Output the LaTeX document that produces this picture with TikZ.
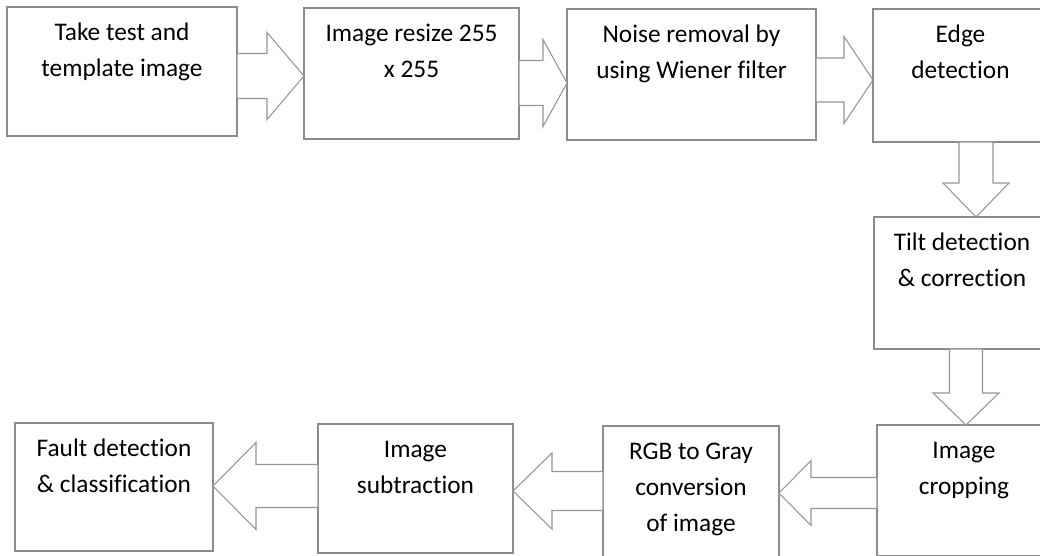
\documentclass[tikz,border=0pt]{standalone}
\usepackage{fontspec}
\setmainfont{Carlito}[Ligatures={NoCommon}]
\usetikzlibrary{calc}
\definecolor{boxgray}{RGB}{140,140,140}
\definecolor{arrgray}{RGB}{150,150,150}
\newcommand\btext[3]{\parbox[t][0.75\dimexpr #2pt\relax][t]{0.75\dimexpr #1pt\relax}{\centering\fontsize{19}{27.2}\selectfont\rule{0pt}{24.8pt}#3\par}}
\newcommand\barR[5]{\draw[barrow] let \p1=(#1.east), \p2=(#2) in
  (\x1,\y2+#3*0.75pt) -- (\x2-#5*0.75pt,\y2+#3*0.75pt) -- (\x2-#5*0.75pt,\y2+#4*0.75pt) -- (\x2,\y2)
  -- (\x2-#5*0.75pt,\y2-#4*0.75pt) -- (\x2-#5*0.75pt,\y2-#3*0.75pt) -- (\x1,\y2-#3*0.75pt) -- cycle;}
\newcommand\barL[5]{\draw[barrow] let \p1=(#1.west), \p2=(#2) in
  (\x1,\y2+#3*0.75pt) -- (\x2+#5*0.75pt,\y2+#3*0.75pt) -- (\x2+#5*0.75pt,\y2+#4*0.75pt) -- (\x2,\y2)
  -- (\x2+#5*0.75pt,\y2-#4*0.75pt) -- (\x2+#5*0.75pt,\y2-#3*0.75pt) -- (\x1,\y2-#3*0.75pt) -- cycle;}
\newcommand\barD[5]{\draw[barrow] let \p1=(#1.south), \p2=(#2) in
  (\x2-#3*0.75pt,\y1) -- (\x2-#3*0.75pt,\y2+#5*0.75pt) -- (\x2-#4*0.75pt,\y2+#5*0.75pt) -- (\x2,\y2)
  -- (\x2+#4*0.75pt,\y2+#5*0.75pt) -- (\x2+#3*0.75pt,\y2+#5*0.75pt) -- (\x2+#3*0.75pt,\y1) -- cycle;}
\begin{document}
\begin{tikzpicture}[x=0.75pt,y=-0.75pt,
  stepbox/.style={draw=boxgray, line width=1.1pt, inner sep=0pt, outer sep=0pt, anchor=north west, fill=white},
  barrow/.style={draw=arrgray, line width=0.8pt, fill=white, line join=miter}]
\useasboundingbox (0,0) rectangle (1040,556);
\clip (0,0) rectangle (1040,556);
\fill[white] (0,0) rectangle (1040,556);
\node[stepbox] (b1) at (7,7) {\btext{230}{129}{Take test and\\template image}};
\node[stepbox] (b2) at (304,8) {\btext{215}{131}{Image resize 255\\x 255}};
\node[stepbox] (b3) at (567,9) {\btext{249}{131}{Noise removal by\\using Wiener filter}};
\node[stepbox] (b4) at (873,9) {\btext{175}{133}{Edge\\detection}};
\node[stepbox] (b5) at (874,217) {\btext{176}{132}{Tilt detection\\\& correction}};
\node[stepbox] (b6) at (877,425) {\btext{174}{130.5}{Image\\cropping}};
\node[stepbox] (b7) at (603,426) {\btext{176}{140}{RGB to Gray\\conversion\\of image}};
\node[stepbox] (b8) at (318,424) {\btext{195}{129}{Image\\subtraction}};
\node[stepbox] (b9) at (15,423) {\btext{198}{128}{Fault detection\\\& classification}};
\coordinate (t1) at ($(b2.west)+(0,2.5)$);
\coordinate (t2) at ($(b3.west)+(0,8.5)$);
\coordinate (t3) at ($(b4.west)+(0,4.5)$);
\coordinate (t4) at ($(b5.north)+(14,0)$);
\coordinate (t5) at ($(b6.north)+(2,0)$);
\coordinate (t6) at ($(b7.east)+(0,-3)$);
\coordinate (t7) at ($(b8.east)+(0,2.5)$);
\coordinate (t8) at ($(b9.east)+(0,-1)$);
\barR{b1}{t1}{22.5}{43.5}{37}
\barR{b2}{t2}{22.5}{43.5}{24}
\barR{b3}{t3}{22}{43.5}{29}
\barD{b4}{t4}{17}{33}{34}
\barD{b5}{t5}{16.5}{33}{32}
\barL{b6}{t6}{15.5}{32.5}{32}
\barL{b7}{t7}{19.5}{38}{39}
\barL{b8}{t8}{21.5}{43.5}{43}
\end{tikzpicture}
\end{document}
